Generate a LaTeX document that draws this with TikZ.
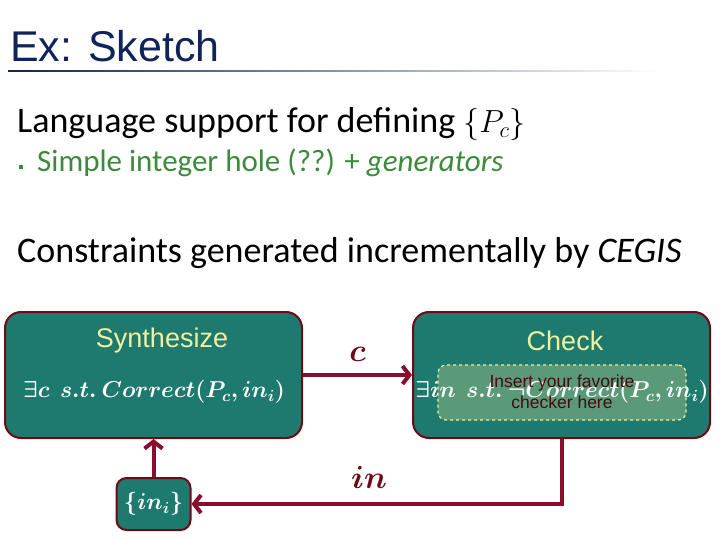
\RequirePackage{fix-cm}
\documentclass[tikz,border=0pt]{standalone}
\usepackage{amsmath,amssymb,bm}
\usepackage{fontspec}
\setmainfont{Carlito}
\newfontfamily\arialfont{Liberation Sans}
\usetikzlibrary{arrows.meta, positioning, calc}
\definecolor{NavyTitle}{RGB}{16, 36, 90}
\definecolor{TealBox}{RGB}{30, 122, 110}
\definecolor{DarkWine}{RGB}{110, 10, 22}
\definecolor{WineArrow}{RGB}{139, 12, 44}
\definecolor{PaleYellow}{RGB}{240, 240, 160}
\definecolor{SageFill}{RGB}{90, 154, 120}
\definecolor{LeafGreen}{RGB}{60, 138, 60}

\begin{document}
\begin{tikzpicture}[x=1pt, y=-1pt,
                    node distance=38pt,
                    stage/.style={rectangle, rounded corners=16pt, draw=DarkWine, line width=2pt, fill=TealBox, minimum width=297pt, minimum height=126pt},
                    hdr/.style={font=\arialfont\fontsize{27}{30}\selectfont, text=PaleYellow},
                    formula/.style={text=white, font=\fontsize{23}{26}\selectfont},
                    lbl/.style={text=DarkWine, font=\fontsize{32}{34}\selectfont},
                    flow/.style={line width=4pt, draw=WineArrow, -{Straight Barb[length=7pt, width=18pt]}}
                ]
                    \useasboundingbox (0,0) rectangle (720,540);

                    % heading
                    \node[anchor=base west, inner sep=0, text=NavyTitle, font=\arialfont\fontsize{43}{48}\selectfont] (title) at (10,62) {Ex: Sketch};
                    \shade[left color=NavyTitle, right color=white] (8,70.5) rectangle (660,72);

                    % bullet text
                    \node[anchor=base west, inner sep=0, font=\fontsize{36}{40}\selectfont] (lang) at (17,133) {Language support for defining {\fontsize{32}{36}\selectfont$\{P_c\}$}};
                    \node[anchor=base west, inner sep=0, text=LeafGreen, font=\fontsize{31}{34}\selectfont] (simple) at (37,172) {Simple integer hole (??) + \textit{generators}};
                    \node[fill=LeafGreen, inner sep=0, minimum size=4pt, left=14pt of simple.base west, yshift=5pt] (dot) {};
                    \node[anchor=base west, inner sep=0, font=\fontsize{36}{40}\selectfont] (cegis) at (17,262) {Constraints generated incrementally by \textit{CEGIS}};

                    % CEGIS loop
                    \node[stage] (synth) at (153.5,375) {};
                    \node[hdr] (synthlbl) at (162,341) {Synthesize};
                    \node[formula] (synthf) at (154,392) {$\bm{\exists c\ \ s.t.\ Correct(P_c, in_i)}$};

                    \node[stage] (check) at (561.5,375) {};
                    \node[hdr] (checklbl) at (565,341) {Check};
                    \node[rectangle, rounded corners=8pt, draw=PaleYellow, dashed, line width=1.2pt, fill=SageFill, minimum width=248pt, minimum height=55pt] (slot) at (562,392.5) {};
                    \node[formula] (checkf) at (562,392) {$\bm{\exists in\ \ s.t.\ \neg Correct(P_c, in_i)}$};
                    \node[align=center, text=DarkWine!70!black, font=\arialfont\fontsize{17.5}{21}\selectfont] (insert) at (562,392) {Insert your favorite\\checker here};

                    \node[stage, rounded corners=10pt, minimum width=74pt, minimum height=52pt, below=of synth] (inset) {};
                    \node[formula] (insetf) at (inset) {$\bm{\{in_i\}}$};

                    \draw[flow] (synth) -- node[lbl, above=8pt] (clbl) {$\bm{c}$} (check);
                    \draw[flow] (check.south) |- node[lbl, pos=0.76, above=10pt] (inlbl) {$\bm{in}$} (inset.east);
                    \draw[flow] (inset.north) -- (synth.south -| inset.north);
                \end{tikzpicture}
\end{document}
